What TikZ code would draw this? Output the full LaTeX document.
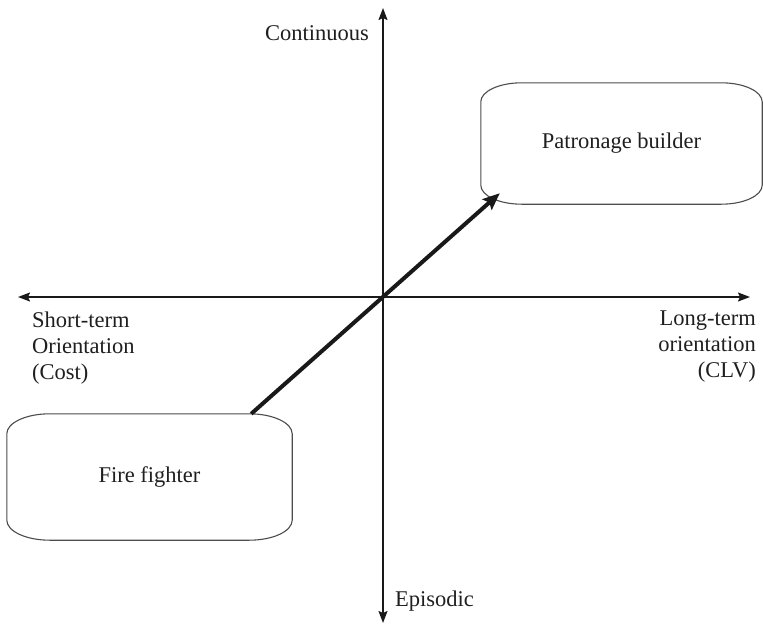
\documentclass[tikz,border=0pt]{standalone}
\usepackage{fontspec}
\setmainfont{Liberation Serif}
\usetikzlibrary{arrows.meta,calc}

\begin{document}
\begin{tikzpicture}[x=1pt,y=-1pt,
  lbl/.style={font=\fontsize{22.5}{26}\selectfont, inner sep=0pt, text=black!88},
  axis/.style={line width=1.6pt, draw=black!90, -{Stealth[length=12pt,width=9pt,inset=2pt]}},
  roundbox/.style={draw=none, rectangle, inner sep=0pt,
    font=\fontsize{22.5}{24}\selectfont, text=black!88},
  outline/.style={draw=black!70, line width=1.1pt},
  trend/.style={line width=4pt, draw=black!90,
    -{Stealth[length=17pt,width=14pt,inset=3pt]}}
]
\useasboundingbox (0,0) rectangle (763,629);

% axes
\coordinate (O) at (383,297);
\coordinate (left) at (18,297);
\coordinate (right) at (750,297);
\coordinate (top) at (383,8);
\coordinate (bottom) at (383,623);
\draw[axis] (O) -- (left);
\draw[axis] (O) -- (right);
\draw[axis] (O) -- (top);
\draw[axis] (O) -- (bottom);

% axis labels
\node[lbl, anchor=base east] (cont) at (369,40) {Continuous};
\node[lbl, anchor=base west] (epi) at (395,606) {Episodic};
\node[lbl, anchor=north west, align=left] (short) at (32,312)
  {Short-term\\Orientation\\(Cost)};
\node[lbl, anchor=north east, align=right] (long) at (756,311)
  {Long-term\\orientation\\(CLV)};

% the two strategy boxes
\node[roundbox, minimum width=285pt, minimum height=126pt] (ff) at (149.5,477) {Fire fighter};
\node[roundbox, minimum width=281pt, minimum height=121pt] (pb) at (621.5,143.5) {Patronage builder};

% outlines with elliptical corners
\foreach \b/\rx/\ry in {ff/43/20, pb/41/19} {
  \draw[outline]
    ([xshift=\rx pt]\b.north west) -- ([xshift=-\rx pt]\b.north east)
    arc[start angle=90, end angle=0, x radius=\rx pt, y radius=\ry pt]
    -- ([yshift=\ry pt]\b.south east)
    arc[start angle=0, end angle=-90, x radius=\rx pt, y radius=\ry pt]
    -- ([xshift=\rx pt]\b.south west)
    arc[start angle=270, end angle=180, x radius=\rx pt, y radius=\ry pt]
    -- ([yshift=-\ry pt]\b.north west)
    arc[start angle=180, end angle=90, x radius=\rx pt, y radius=\ry pt];
}

% movement from fire fighting to patronage building
\draw[trend] ([xshift=-41pt]ff.north east) -- ([shift={(19pt,11pt)}]pb.south west);
\end{tikzpicture}
\end{document}
